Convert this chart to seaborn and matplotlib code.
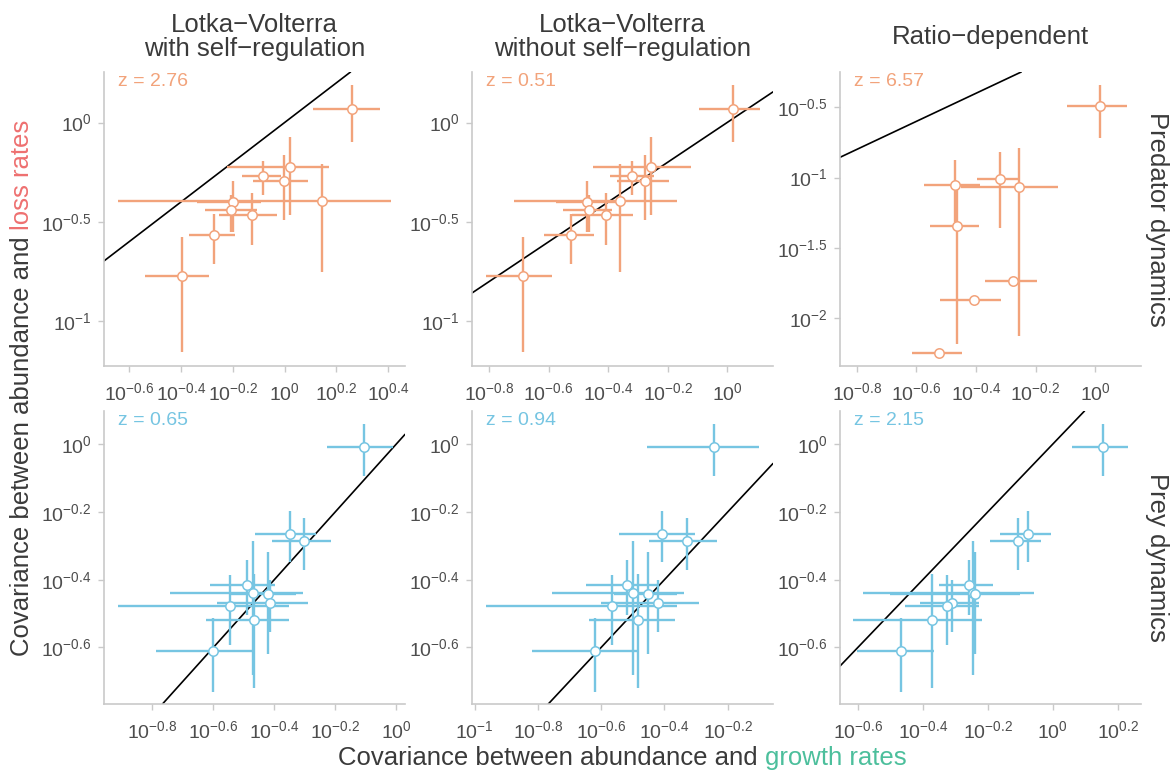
import numpy as np
import pandas as pd
import matplotlib
matplotlib.use("Agg")
import matplotlib.pyplot as plt
from matplotlib.ticker import NullLocator
import seaborn as sns

sns.set_theme(style="ticks")
plt.rcParams["font.family"] = ["Liberation Sans", "DejaVu Sans"]
plt.rcParams["mathtext.fontset"] = "custom"
plt.rcParams["mathtext.rm"] = "Liberation Sans"
plt.rcParams["mathtext.it"] = "Liberation Sans:italic"
plt.rcParams["mathtext.bf"] = "Liberation Sans:bold"

PRED = "#F2A37B"; PREY = "#76C5E2"; LOSS = "#EE7070"; GROW = "#4CBF9C"
TXT = "#3A3A3A"; TICK = "#4D4D4D"; AX = "#C9C9C9"

# all values are log10 of the covariances
models = ["Lotka\u2212Volterra\nwith self\u2212regulation",
          "Lotka\u2212Volterra\nwithout self\u2212regulation",
          "Ratio\u2212dependent"]
rows = ["Predator dynamics", "Prey dynamics"]
z_scores = [["2.76", "0.51", "6.57"], ["0.65", "0.94", "2.15"]]

# predator: observed loss-rate covariance (shared by the two LV panels)
pred_y    = [0.069, -0.224, -0.268, -0.295, -0.395, -0.402, -0.442, -0.465, -0.566, -0.770]
pred_y_lo = [-0.098, -0.464, -0.362, -0.490, -0.749, -0.548, -0.548, -0.615, -0.712, -1.152]
pred_y_hi = [0.189, -0.073, -0.192, -0.162, -0.208, -0.296, -0.363, -0.355, -0.459, -0.573]

lvs_pred_x    = [0.260, 0.019, -0.082, -0.002, 0.146, -0.198, -0.208, -0.127, -0.272, -0.397]
lvs_pred_x_lo = [0.110, -0.221, -0.163, -0.121, -0.642, -0.339, -0.307, -0.253, -0.369, -0.538]
lvs_pred_x_hi = [0.369, 0.172, -0.015, 0.092, 0.410, -0.092, -0.108, -0.028, -0.192, -0.292]

lv_pred_x    = [0.019, -0.257, -0.321, -0.275, -0.361, -0.470, -0.463, -0.408, -0.523, -0.685]
lv_pred_x_lo = [-0.094, -0.450, -0.395, -0.370, -0.717, -0.574, -0.553, -0.521, -0.616, -0.809]
lv_pred_x_hi = [0.109, -0.123, -0.247, -0.196, -0.168, -0.359, -0.387, -0.316, -0.448, -0.588]

rd_pred_x    = [0.018, -0.320, -0.469, -0.257, -0.463, -0.274, -0.408, -0.523]
rd_pred_x_lo = [-0.095, -0.395, -0.574, -0.451, -0.554, -0.371, -0.522, -0.615]
rd_pred_x_hi = [0.106, -0.257, -0.386, -0.124, -0.389, -0.196, -0.316, -0.447]
rd_pred_y    = [-0.489, -1.011, -1.052, -1.066, -1.344, -1.738, -1.873, -2.249]
rd_pred_y_lo = [-0.721, -1.362, -1.320, -2.128, -2.187, np.nan, np.nan, np.nan]
rd_pred_y_hi = [-0.341, -0.821, -0.876, -0.788, -1.050, np.nan, np.nan, np.nan]

# prey: observed loss-rate covariance (shared by all three panels)
prey_y    = [-0.265, -0.287, -0.416, -0.440, -0.442, -0.470, -0.478, -0.519, -0.610, -0.009]
prey_y_lo = [-0.347, -0.370, -0.504, -0.681, -0.619, -0.554, -0.593, -0.721, -0.731, -0.093]
prey_y_hi = [-0.197, -0.219, -0.342, -0.286, -0.318, -0.401, -0.386, -0.383, -0.514, 0.061]

lvs_prey_x    = [-0.350, -0.301, -0.491, -0.471, -0.421, -0.413, -0.545, -0.467, -0.601, -0.107]
lvs_prey_x_lo = [-0.463, -0.408, -0.611, -0.742, -0.550, -0.587, -0.913, -0.624, -0.789, -0.228]
lvs_prey_x_hi = [-0.264, -0.215, -0.398, -0.307, -0.330, -0.289, -0.352, -0.353, -0.469, -0.012]

lv_prey_x    = [-0.407, -0.328, -0.517, -0.498, -0.451, -0.420, -0.565, -0.482, -0.620, -0.242]
lv_prey_x_lo = [-0.542, -0.450, -0.648, -0.754, -0.560, -0.600, -0.965, -0.638, -0.819, -0.455]
lv_prey_x_hi = [-0.302, -0.234, -0.416, -0.339, -0.360, -0.292, -0.360, -0.366, -0.482, -0.100]

rd_prey_x    = [-0.077, -0.108, -0.259, -0.244, -0.240, -0.311, -0.325, -0.372, -0.466, 0.155]
rd_prey_x_lo = [-0.161, -0.194, -0.351, -0.583, -0.500, -0.408, -0.454, -0.614, -0.603, 0.061]
rd_prey_x_hi = [-0.006, -0.037, -0.183, -0.056, -0.100, -0.228, -0.228, -0.217, -0.365, 0.233]

panels = [
    [(lvs_pred_x, lvs_pred_x_lo, lvs_pred_x_hi, pred_y, pred_y_lo, pred_y_hi),
     (lv_pred_x, lv_pred_x_lo, lv_pred_x_hi, pred_y, pred_y_lo, pred_y_hi),
     (rd_pred_x, rd_pred_x_lo, rd_pred_x_hi, rd_pred_y, rd_pred_y_lo, rd_pred_y_hi)],
    [(lvs_prey_x, lvs_prey_x_lo, lvs_prey_x_hi, prey_y, prey_y_lo, prey_y_hi),
     (lv_prey_x, lv_prey_x_lo, lv_prey_x_hi, prey_y, prey_y_lo, prey_y_hi),
     (rd_prey_x, rd_prey_x_lo, rd_prey_x_hi, prey_y, prey_y_lo, prey_y_hi)],
]
xlims = [[(-0.696, 0.464), (-0.857, 0.154), (-0.856, 0.154)],
         [(-0.959, 0.029), (-1.008, -0.057), (-0.655, 0.272)]]
ylims = [[(-1.224, 0.254), (-1.224, 0.254), (-2.343, -0.248)],
         [(-0.767, 0.098), (-0.767, 0.098), (-0.767, 0.098)]]
xticks = [[[-0.6, -0.4, -0.2, 0, 0.2, 0.4], [-0.8, -0.6, -0.4, -0.2, 0], [-0.8, -0.6, -0.4, -0.2, 0]],
          [[-0.8, -0.6, -0.4, -0.2, 0], [-1, -0.8, -0.6, -0.4, -0.2], [-0.6, -0.4, -0.2, 0, 0.2]]]
yticks = [[[-1, -0.5, 0], [-1, -0.5, 0], [-2, -1.5, -1, -0.5]],
          [[-0.6, -0.4, -0.2, 0], [-0.6, -0.4, -0.2, 0], [-0.6, -0.4, -0.2, 0]]]

W, H = 1176, 773
fig = plt.figure(figsize=(W / 100, H / 100), dpi=100)
lefts = [104, 472, 840]; pw = 301
tops = [72, 411]; bots = [366, 704]
FS = 18.5


def lab(v):
    return r"$\mathregular{10^{%s}}$" % ("0" if v == 0 else f"{v:g}")


for r in range(2):
    col = PRED if r == 0 else PREY
    for c in range(3):
        ax = fig.add_axes([lefts[c] / W, 1 - bots[r] / H, pw / W, (bots[r] - tops[r]) / H])
        x, xlo, xhi, y, ylo, yhi = [np.power(10.0, np.asarray(a)) for a in panels[r][c]]
        df = pd.DataFrame({"x": x, "y": y})
        ax.set_xscale("log"); ax.set_yscale("log")
        ax.axline((1, 1), (10, 10), color="black", lw=1.2, zorder=1)
        ax.hlines(y, xlo, xhi, color=col, lw=1.7, zorder=2)
        ok = ~np.isnan(ylo)
        ax.vlines(x[ok], ylo[ok], yhi[ok], color=col, lw=1.7, zorder=2)
        sns.scatterplot(data=df, x="x", y="y", ax=ax, s=46, facecolor="white",
                        edgecolor=col, linewidth=1.1, zorder=3)
        ax.set_xlim(*np.power(10.0, xlims[r][c])); ax.set_ylim(*np.power(10.0, ylims[r][c]))
        ax.set_xticks(np.power(10.0, xticks[r][c]), [lab(v) for v in xticks[r][c]])
        ax.set_yticks(np.power(10.0, yticks[r][c]), [lab(v) for v in yticks[r][c]])
        ax.xaxis.set_minor_locator(NullLocator()); ax.yaxis.set_minor_locator(NullLocator())
        ax.set_xlabel(""); ax.set_ylabel("")
        sns.despine(ax=ax)
        for s in ["left", "bottom"]:
            ax.spines[s].set_color(AX); ax.spines[s].set_linewidth(1.2)
        ax.tick_params(colors=AX, labelcolor=TICK, labelsize=14, length=4, width=1, pad=5)
        ax.tick_params(axis="x", pad=8)
        ax.text(0.047, 0.995, f"z = {z_scores[r][c]}", transform=ax.transAxes,
                ha="left", va="top", color=col, fontsize=14)
        if r == 0:
            fig.text((lefts[c] + pw / 2) / W, 1 - 37 / H, models[c], ha="center", va="center",
                     fontsize=FS, color=TXT, linespacing=1.03)
    fig.text(1157 / W, 1 - (tops[r] + bots[r]) / 2 / H, rows[r], rotation=270,
             ha="center", va="center", fontsize=FS, color=TXT)

# two-colour axis titles
rend = fig.canvas.get_renderer()
probe = fig.text(0, 0, "x x", fontsize=FS); w_sp = probe.get_window_extent(rend).width
probe.set_text("xx"); w_sp -= probe.get_window_extent(rend).width; probe.remove()

xa = fig.text(0, 1 - 758 / H, "Covariance between abundance and", ha="left", va="center", fontsize=FS, color=TXT)
xb = fig.text(0, 1 - 758 / H, "growth rates", ha="left", va="center", fontsize=FS, color=GROW)
wa = xa.get_window_extent(rend).width; wb = xb.get_window_extent(rend).width
x0 = 622 - (wa + w_sp + wb) / 2
xa.set_x(x0 / W); xb.set_x((x0 + wa + w_sp) / W)

ya = fig.text(22 / W, 0, "Covariance between abundance and", rotation=90, ha="center", va="bottom", fontsize=FS, color=TXT)
yb = fig.text(22 / W, 0, "loss rates", rotation=90, ha="center", va="bottom", fontsize=FS, color=LOSS)
ha_ = ya.get_window_extent(rend).height; hb_ = yb.get_window_extent(rend).height
y0 = (H - 388) - (ha_ + w_sp + hb_) / 2
ya.set_y(y0 / H); yb.set_y((y0 + ha_ + w_sp) / H)

fig.savefig("out.png", dpi=100)
